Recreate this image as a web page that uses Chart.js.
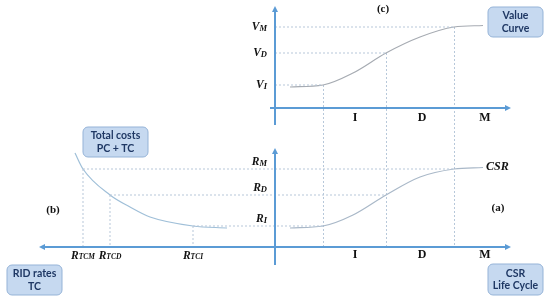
<!DOCTYPE html>
<html>
<head>
<meta charset="utf-8">
<title>CSR life cycle, value curve and RID rates</title>
<script src="https://cdn.jsdelivr.net/npm/chart.js"></script>
<style>
  html, body { margin: 0; padding: 0; background: #fff; }
  canvas { display: block; }
</style>
</head>
<body>
<canvas id="chart" width="550" height="302"></canvas>
<script>
// schematic units (origin = the vertical axis / each panel's horizontal axis)
const stageNames = ['I', 'D', 'M'];
const stageX = [48, 111, 179];          // boundaries of the I, D, M phases
const stageLabelX = [80, 147, 210];
const valueLevels = [23, 55, 81];       // V_I, V_D, V_M
const csrLevels = [21, 52, 78];         // R_I, R_D, R_M
const rtcX = [-82, -165, -192];         // R_TCI, R_TCD, R_TCM
const levelSubs = ['I', 'D', 'M'];

const valueCurveX = [15, 48, 78, 111, 145, 179, 208];
const valueCurveY = [21, 23, 35, 55, 71, 81, 82.5];
const csrCurveX = [15, 48, 78, 111, 145, 179, 208];
const csrCurveY = [19, 21, 32, 52, 70, 78, 79.5];
const costCurveX = [-200, -192, -165, -145, -125, -82, -48];
const costCurveY = [94, 78, 52, 40, 30, 21, 19];

const AXIS = '#5b9bd5';
const CURVE = '#a9b8c8';
const GUIDE = '#b7c8da';

const pts = (xs, ys) => xs.map((x, i) => ({ x: x, y: ys[i] }));

function curve(data, axis, color) {
  return { data: data, yAxisID: axis, showLine: true, borderColor: color, borderWidth: 1.2,
    pointRadius: 0, cubicInterpolationMode: 'monotone', fill: false };
}
function guide(data, axis) {
  return { data: data, yAxisID: axis, showLine: true, borderColor: GUIDE, borderWidth: 1,
    borderDash: [2, 2], pointRadius: 0, tension: 0, fill: false };
}

const datasets = [];
// horizontal guides, upper panel
valueLevels.forEach((v, i) => datasets.push(guide([{ x: 0, y: v }, { x: stageX[i], y: v }], 'yV')));
// horizontal guides, lower panel (from cost curve to CSR curve)
csrLevels.forEach((r, i) => datasets.push(guide([{ x: rtcX[i], y: r }, { x: stageX[i], y: r }], 'yR')));
// vertical guides down to the RID axis
csrLevels.forEach((r, i) => datasets.push(guide([{ x: rtcX[i], y: r }, { x: rtcX[i], y: 0 }], 'yR')));
datasets.push(curve(pts(valueCurveX, valueCurveY), 'yV', '#a6abb2'));
datasets.push(curve(pts(csrCurveX, csrCurveY), 'yR', CURVE));
datasets.push(curve(pts(costCurveX, costCurveY), 'yR', '#9fbfd8'));

function arrow(ctx, x, y, dir) {
  ctx.save();
  ctx.translate(x, y);
  ctx.rotate(dir);
  ctx.beginPath();
  ctx.moveTo(3, 0);
  ctx.lineTo(-3, -3);
  ctx.lineTo(-3, 3);
  ctx.closePath();
  ctx.fill();
  ctx.restore();
}

function subLabel(ctx, base, sub, x, y, align, subSize) {
  const big = 'italic bold 11.5px "Liberation Serif"';
  const small = 'italic bold ' + (subSize || 8.5) + 'px "Liberation Serif"';
  ctx.font = big;
  const wb = ctx.measureText(base).width;
  ctx.font = small;
  const ws = ctx.measureText(sub).width;
  let left = x;
  if (align === 'right') left = x - wb - ws;
  if (align === 'center') left = x - (wb + ws) / 2;
  ctx.textAlign = 'left';
  ctx.textBaseline = 'middle';
  ctx.font = big;
  ctx.fillText(base, left, y);
  ctx.font = small;
  ctx.fillText(sub, left + wb, y + 1.5);
}

function box(ctx, x1, y1, x2, y2, lines) {
  const r = 5;
  ctx.save();
  ctx.beginPath();
  ctx.roundRect(x1, y1, x2 - x1, y2 - y1, r);
  ctx.fillStyle = '#c6d9f0';
  ctx.fill();
  ctx.strokeStyle = '#95b3d7';
  ctx.lineWidth = 1;
  ctx.stroke();
  ctx.fillStyle = '#1f3864';
  ctx.font = 'bold 10.5px Lato';
  ctx.textAlign = 'center';
  ctx.textBaseline = 'middle';
  const cx = (x1 + x2) / 2, cy = (y1 + y2) / 2;
  lines.forEach((t, i) => ctx.fillText(t, cx, cy + (i - (lines.length - 1) / 2) * 12.5));
  ctx.restore();
}

const diagram = {
  id: 'diagram',
  beforeDatasetsDraw(chart) {
    const { ctx, scales: { x, yV, yR } } = chart;
    // guides crossing both panels: value curve points down to the CSR axis
    ctx.save();
    ctx.strokeStyle = GUIDE;
    ctx.lineWidth = 1;
    ctx.setLineDash([2, 2]);
    stageX.forEach((sx, i) => {
      const px = Math.round(x.getPixelForValue(sx)) + 0.5;
      ctx.beginPath();
      ctx.moveTo(px, yV.getPixelForValue(valueLevels[i]));
      ctx.lineTo(px, yR.getPixelForValue(0));
      ctx.stroke();
    });
    ctx.restore();
  },
  afterDatasetsDraw(chart) {
    const { ctx, scales: { x, yV, yR } } = chart;
    const ox = x.getPixelForValue(0);
    ctx.save();
    // axes
    ctx.strokeStyle = AXIS;
    ctx.fillStyle = AXIS;
    ctx.lineWidth = 2;
    ctx.beginPath();
    ctx.moveTo(ox, yV.getPixelForValue(-17));
    ctx.lineTo(ox, yV.getPixelForValue(98));
    ctx.moveTo(x.getPixelForValue(-5), yV.getPixelForValue(0));
    ctx.lineTo(x.getPixelForValue(231), yV.getPixelForValue(0));
    ctx.moveTo(ox, yR.getPixelForValue(-18));
    ctx.lineTo(ox, yR.getPixelForValue(95));
    ctx.moveTo(x.getPixelForValue(-231), yR.getPixelForValue(0));
    ctx.lineTo(x.getPixelForValue(231), yR.getPixelForValue(0));
    ctx.stroke();
    arrow(ctx, ox, yV.getPixelForValue(99), -Math.PI / 2);
    arrow(ctx, x.getPixelForValue(233), yV.getPixelForValue(0), 0);
    arrow(ctx, ox, yR.getPixelForValue(96), -Math.PI / 2);
    arrow(ctx, x.getPixelForValue(233), yR.getPixelForValue(0), 0);
    arrow(ctx, x.getPixelForValue(-233), yR.getPixelForValue(0), Math.PI);

    ctx.fillStyle = '#111';
    // level labels
    valueLevels.forEach((v, i) => subLabel(ctx, 'V', levelSubs[i], ox - 8, yV.getPixelForValue(v), 'right'));
    csrLevels.forEach((r, i) => subLabel(ctx, 'R', levelSubs[i], ox - 8, yR.getPixelForValue(r) - 7, 'right'));
    rtcX.forEach((rx, i) => subLabel(ctx, 'R', 'TC' + levelSubs[i], x.getPixelForValue(rx), yR.getPixelForValue(0) + 9, 'center', 7.5));

    // phase labels
    ctx.font = 'bold 12px "Liberation Serif"';
    ctx.textAlign = 'center';
    ctx.textBaseline = 'middle';
    stageNames.forEach((s, i) => {
      ctx.fillText(s, x.getPixelForValue(stageLabelX[i]), yV.getPixelForValue(0) + 10);
      ctx.fillText(s, x.getPixelForValue(stageLabelX[i]), yR.getPixelForValue(0) + 8);
    });

    ctx.font = 'bold 11px "Liberation Serif"';
    ctx.fillText('(c)', x.getPixelForValue(108), yV.getPixelForValue(99));
    ctx.fillText('(a)', x.getPixelForValue(223), yR.getPixelForValue(39));
    ctx.fillText('(b)', x.getPixelForValue(-222), yR.getPixelForValue(37));

    ctx.font = 'italic bold 12px "Liberation Serif"';
    ctx.textAlign = 'left';
    ctx.fillText('CSR', x.getPixelForValue(211), yR.getPixelForValue(80));

    box(ctx, x.getPixelForValue(213), yV.getPixelForValue(101), x.getPixelForValue(268), yV.getPixelForValue(71), ['Value', 'Curve']);
    box(ctx, x.getPixelForValue(-192), yR.getPixelForValue(120), x.getPixelForValue(-127), yR.getPixelForValue(90), ['Total costs', 'PC + TC']);
    box(ctx, x.getPixelForValue(-268), yR.getPixelForValue(-18), x.getPixelForValue(-213), yR.getPixelForValue(-48), ['RID rates', 'TC']);
    box(ctx, x.getPixelForValue(213), yR.getPixelForValue(-17), x.getPixelForValue(268), yR.getPixelForValue(-48), ['CSR', 'Life Cycle']);
    ctx.restore();
  }
};

new Chart(document.getElementById('chart'), {
  type: 'scatter',
  data: { datasets: datasets },
  options: {
    responsive: false,
    animation: false,
    events: [],
    layout: { padding: 0 },
    plugins: { legend: { display: false }, tooltip: { enabled: false } },
    scales: {
      x: { type: 'linear', min: -275, max: 275, display: false },
      yV: { type: 'linear', position: 'left', min: -194, max: 108, display: false },
      yR: { type: 'linear', position: 'left', min: -55, max: 247, display: false }
    }
  },
  plugins: [diagram]
});
</script>
</body>
</html>
